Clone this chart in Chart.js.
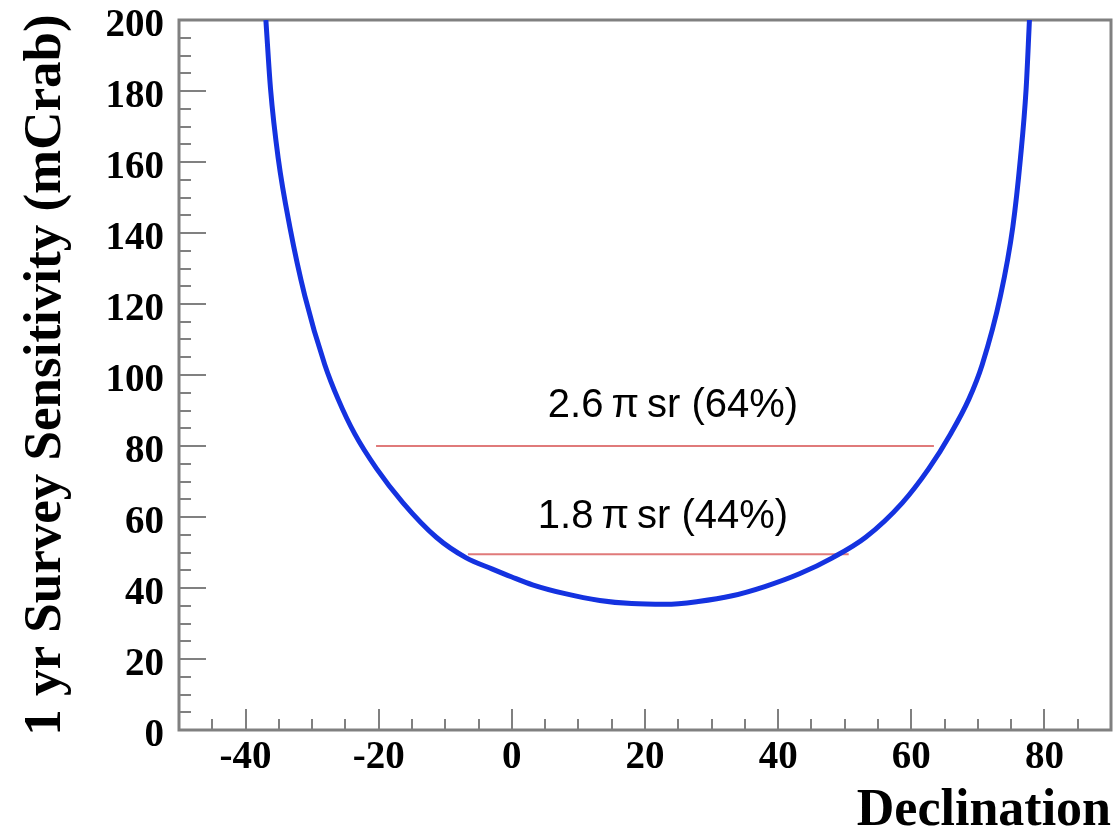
<!DOCTYPE html>
<html>
<head>
<meta charset="utf-8">
<script src="https://cdn.jsdelivr.net/npm/chart.js@4.4.1/dist/chart.umd.min.js"></script>
<style>
  body { margin: 0; background: #fff; }
</style>
</head>
<body>
<canvas id="myChart" width="1113" height="834"></canvas>
<script>
// sensitivity curve
var declination = [-36.95, -36.25, -35.1, -33.35, -31.1, -28.1, -26.1, -23.6, -20.35, -16.35, -11.35, -6.85, -3, 0, 3.1, 8, 13.2, 18, 23.1, 28, 33.1, 38, 43.2, 48.15, 53.15, 58.65, 62.65, 65.9, 68.65, 70.65, 73.4, 75.25, 76.4, 77.25, 77.75];
var sensitivity = [200, 180.6, 161.1, 141.7, 122.3, 102.9, 93.2, 83.4, 73.7, 64, 54.3, 48.5, 45.4, 43.1, 40.9, 38.4, 36.5, 35.6, 35.4, 36.2, 37.8, 40.4, 44.0, 48.5, 54.3, 64, 73.7, 83.4, 93.2, 102.9, 122.3, 141.7, 161.1, 180.6, 200];

var xTicks = [-40, -20, 0, 20, 40, 60, 80];

// sky coverage bands
var skyLabels = ['2.6\u2009\u03c0\u2009sr (64%)', '1.8\u2009\u03c0\u2009sr (44%)'];
var skyLevels = [80, 49.5];
var skyFrom = [-20.4, -6.6];
var skyTo = [63.4, 50.6];
var labelX = [24.2, 22.7];
var labelY = [88.2, 56.9];

var curve = [];
for (let i = 0; i < declination.length; i++) {
    curve.push({ x: declination[i], y: sensitivity[i] });
}

var datasets = [{
    data: curve,
    borderColor: '#1432e0',
    borderWidth: 5,
    pointRadius: 0,
    cubicInterpolationMode: 'monotone'
}];
for (let i = 0; i < skyLevels.length; i++) {
    datasets.push({
        data: [{ x: skyFrom[i], y: skyLevels[i] }, { x: skyTo[i], y: skyLevels[i] }],
        borderColor: '#e07a7a',
        borderWidth: 2,
        pointRadius: 0
    });
}

// frame, inward ticks and the coverage labels
var frameTicks = {
    id: 'frameTicks',
    beforeDatasetsDraw(chart) {
        var ctx = chart.ctx;
        var a = chart.chartArea;
        var xs = chart.scales.x;
        var ys = chart.scales.y;
        ctx.save();
        ctx.strokeStyle = '#808080';
        ctx.lineWidth = 2;
        ctx.beginPath();
        for (let v = -45; v <= 85; v += 5) {
            var px = Math.round(xs.getPixelForValue(v));
            var len = v % 20 === 0 ? 21 : 11;
            ctx.moveTo(px, a.bottom);
            ctx.lineTo(px, a.bottom - len);
        }
        for (let v = 5; v < 200; v += 5) {
            var py = Math.round(ys.getPixelForValue(v));
            var len2 = v % 20 === 0 ? 27 : 12;
            ctx.moveTo(a.left, py);
            ctx.lineTo(a.left + len2, py);
        }
        ctx.stroke();
        ctx.lineWidth = 3;
        ctx.strokeRect(a.left, a.top, a.right - a.left, a.bottom - a.top);
        ctx.restore();
    },
    afterDatasetsDraw(chart) {
        var ctx = chart.ctx;
        var xs = chart.scales.x;
        var ys = chart.scales.y;
        ctx.save();
        ctx.fillStyle = '#000';
        ctx.font = '40px "Liberation Sans", Arial, sans-serif';
        ctx.textAlign = 'center';
        ctx.textBaseline = 'alphabetic';
        for (let i = 0; i < skyLabels.length; i++) {
            ctx.fillText(skyLabels[i], xs.getPixelForValue(labelX[i]), ys.getPixelForValue(labelY[i]));
        }
        ctx.restore();
    }
};

var serif = '"Liberation Serif", "Times New Roman", serif';

var ctx = document.getElementById('myChart').getContext('2d');
var myChart = new Chart(ctx, {
    type: 'line',
    data: { datasets: datasets },
    options: {
        responsive: false,
        animation: false,
        layout: { padding: { left: 0, right: 2, top: 20, bottom: 0 } },
        plugins: {
            legend: { display: false },
            tooltip: { enabled: false }
        },
        scales: {
            x: {
                type: 'linear',
                min: -50,
                max: 90,
                grid: { display: false },
                border: { display: false },
                afterBuildTicks: function (scale) {
                    scale.ticks = xTicks.map(function (v) { return { value: v }; });
                },
                afterFit: function (scale) {
                    scale.height = 104;
                    scale.paddingLeft = 0;
                    scale.paddingRight = 0;
                },
                ticks: {
                    color: '#000',
                    padding: 0,
                    maxRotation: 0,
                    font: { family: serif, size: 39, weight: 'bold', lineHeight: 1 }
                },
                title: {
                    display: true,
                    text: 'Declination',
                    align: 'end',
                    color: '#000',
                    padding: { top: 0, bottom: -4 },
                    font: { family: serif, size: 52, weight: 'bold', lineHeight: 1 }
                }
            },
            y: {
                min: 0,
                max: 200,
                grid: { display: false },
                border: { display: false },
                afterFit: function (scale) {
                    scale.width = 179;
                    scale.paddingTop = 0;
                    scale.paddingBottom = 0;
                },
                ticks: {
                    stepSize: 20,
                    color: '#000',
                    padding: 7,
                    labelOffset: 6,
                    font: { family: serif, size: 39, weight: 'bold', lineHeight: 1 }
                },
                title: {
                    display: true,
                    text: '1 yr Survey Sensitivity (mCrab)',
                    color: '#000',
                    padding: { top: 20, bottom: 0 },
                    font: { family: serif, size: 53, weight: 'bold', lineHeight: 1 }
                }
            }
        }
    },
    plugins: [frameTicks]
});
</script>
</body>
</html>
